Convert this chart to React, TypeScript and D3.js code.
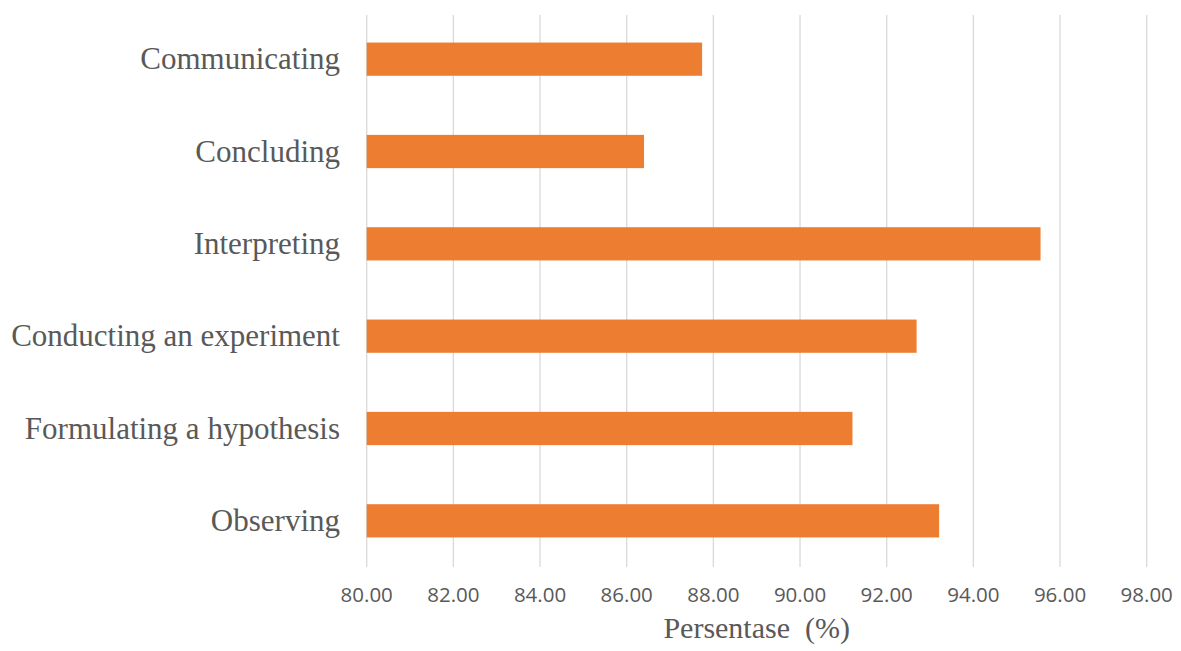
import React from "react";
import * as d3 from "d3";

const categories = [
  "Communicating",
  "Concluding",
  "Interpreting",
  "Conducting an experiment",
  "Formulating a hypothesis",
  "Observing",
];
const values = [87.74, 86.4, 95.55, 92.69, 91.21, 93.21];
const xTicks = [80, 82, 84, 86, 88, 90, 92, 94, 96, 98];
const xTitle = "Persentase  (%)";

const W = 1181;
const H = 651;
const left = 366.7;
const right = 1146.7;
const top = 13;
const bottom = 567;

export default function App() {
  const x = d3.scaleLinear().domain([80, 98]).range([left, right]);
  const y = d3
    .scaleBand<string>()
    .domain(categories)
    .range([top, bottom])
    .paddingInner(0.64)
    .paddingOuter(0.32);
  const bw = y.bandwidth();
  return (
    <svg
      width={W}
      height={H}
      style={{ position: "absolute", left: 0, top: 0, background: "#fff" }}
    >
      <rect width={W} height={H} fill="#fff" />
      {xTicks.map((t) => (
        <line
          key={"g" + t}
          x1={x(t)}
          x2={x(t)}
          y1={top + 2}
          y2={bottom}
          stroke="#d9d9d9"
          strokeWidth={1.3}
        />
      ))}
      {categories.map((c, i) => (
        <rect
          key={c}
          x={x(80)}
          y={y(c)!}
          width={x(values[i]) - x(80)}
          height={bw}
          fill="#ED7D31"
        />
      ))}
      {categories.map((c) => (
        <text
          key={"l" + c}
          x={340}
          y={y(c)! + bw / 2 + 10}
          textAnchor="end"
          fontFamily="'Liberation Serif', 'Times New Roman', serif"
          fontSize={31}
          fill="#595959"
        >
          {c}
        </text>
      ))}
      {xTicks.map((t) => (
        <text
          key={"t" + t}
          x={x(t)}
          y={602}
          textAnchor="middle"
          fontFamily="'Open Sans', sans-serif"
          fontSize={20.5}
          fill="#595959"
        >
          {d3.format(".2f")(t)}
        </text>
      ))}
      <text
        x={(left + right) / 2}
        y={638}
        textAnchor="middle"
        fontFamily="'Liberation Serif', 'Times New Roman', serif"
        fontSize={30}
        fill="#595959"
        style={{ whiteSpace: "pre" }}
      >
        {xTitle}
      </text>
    </svg>
  );
}
